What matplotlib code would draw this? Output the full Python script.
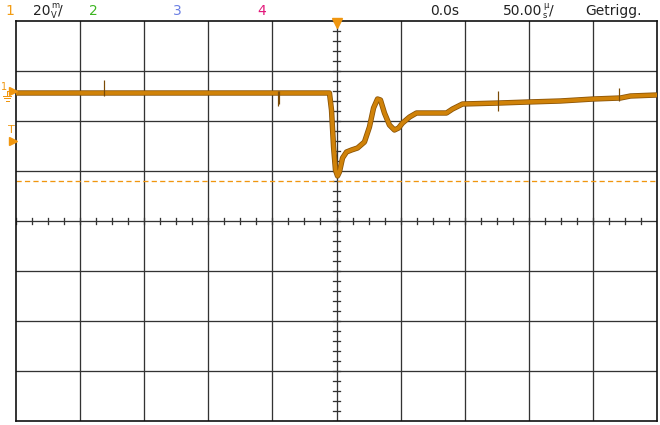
import matplotlib
matplotlib.use("Agg")
import matplotlib.pyplot as plt
import matplotlib.patheffects as pe

# channel 1 trace (time in us, voltage in mV relative to ch1 ground)
t_us = [-250.0, -120.0, -46.4, -5.5,
        -3.9, -2.3, -0.8, 0.8, 2.3, 4.7, 7.8, 11.7, 16.4, 21.8, 25.7, 28.9, 32.0,
        34.3, 37.4, 41.3, 45.2, 48.4, 51.5, 57.0, 62.4, 72.5, 85.8, 90.5, 98.3,
        127.1, 149.7, 174.6, 200.4, 221.5, 229.3, 250.0]
v_mV = [-0.8, -0.8, -0.8, -0.8,
        -7.6, -22.4, -31.6, -34.0, -32.4, -26.8, -24.4, -23.6, -22.8, -20.4, -14.4,
        -6.8, -3.2, -3.6, -8.8, -13.6, -15.6, -14.8, -12.8, -10.4, -8.8, -8.8, -8.8,
        -7.2, -5.2, -4.8, -4.4, -4.0, -3.2, -2.8, -2.0, -1.6]

# single glitches on the trace (time, low, high in mV)
spike_t = [-181.0, -46.0, -44.5, 126.0, 220.0]
spike_lo = [-2.0, -6.0, -5.0, -8.0, -4.0]
spike_hi = [4.4, 0.0, 0.0, 0.0, 1.2]

volts_per_div = 20.0     # mV/div
time_per_div = 50.0      # us/div
ch1_offset_div = 2.6     # ground marker position
trig_level_div = 1.6
cursor_div = 0.8

header_labels = ["1", "20", "2", "3", "4", "0.0s", "50.00", "Getrigg."]
header_colors = ["#f39c12", "#222222", "#3cb521", "#6b7fe3", "#e3177a",
                 "#222222", "#222222", "#222222"]
header_x = [5, 33, 89, 173, 257, 430, 503, 585]

orange = "#f0960f"
grid_col = "#333333"
ink = "#222222"

fig = plt.figure(figsize=(6.6, 4.25), dpi=100)
W, H = 660, 425
ax = fig.add_axes([16 / W, 4 / H, 641 / W, 400 / H])
ax.set_xlim(-5, 5)
ax.set_ylim(-4, 4)
ax.set_xticks([])
ax.set_yticks([])
for s in ax.spines.values():
    s.set_color("#111111")
    s.set_linewidth(1.2)

px = 0.72  # one pixel in points
for i in range(-4, 5):
    ax.axvline(i, color=grid_col, lw=1.3 * px, zorder=1)
for j in range(-3, 4):
    ax.axhline(j, color=grid_col, lw=1.3 * px, zorder=1)

# minor ticks on the centre cross
for k in range(-20, 21):
    x = k * 0.25
    ax.plot([x, x], [-0.06, 0.06], color=grid_col, lw=1.3 * px, zorder=1)
for k in range(-20, 21):
    y = k * 0.2
    ax.plot([-0.05, 0.05], [y, y], color=grid_col, lw=1.3 * px, zorder=1)

# cursor line
ax.axhline(cursor_div, color=orange, lw=1.3 * px, ls=(0, (4, 2.5)), zorder=2)

# trace
xd = [t / time_per_div for t in t_us]
yd = [v / volts_per_div + ch1_offset_div for v in v_mV]
ax.plot(xd, yd, color="#d08208", lw=3.8 * px, solid_joinstyle="round",
        solid_capstyle="butt", zorder=3,
        path_effects=[pe.Stroke(linewidth=5.4 * px, foreground="#8a5306"), pe.Normal()])
for t, lo, hi in zip(spike_t, spike_lo, spike_hi):
    x = t / time_per_div
    ax.plot([x, x], [lo / volts_per_div + ch1_offset_div, hi / volts_per_div + ch1_offset_div],
            color="#7a4a05", lw=1.2 * px, solid_capstyle="butt", zorder=3)

# header text
for lab, c, x in zip(header_labels, header_colors, header_x):
    fig.text(x / W, 1 - 11 / H, lab, color=c, fontsize=10, ha="left", va="center")
# stacked unit glyphs
fig.text(51 / W, 1 - 6 / H, "m", color=ink, fontsize=6, ha="left", va="center")
fig.text(51 / W, 1 - 15 / H, "V", color=ink, fontsize=6, ha="left", va="center")
fig.text(58 / W, 1 - 11 / H, "/", color=ink, fontsize=10, ha="left", va="center")
fig.text(543 / W, 1 - 6 / H, "µ", color=ink, fontsize=6, ha="left", va="center")
fig.text(543 / W, 1 - 15 / H, "s", color=ink, fontsize=6, ha="left", va="center")
fig.text(549 / W, 1 - 11 / H, "/", color=ink, fontsize=10, ha="left", va="center")

# trigger position marker at top
fig.add_artist(plt.Line2D([337 / W], [1 - 23 / H], marker="v", color=orange,
                          markersize=7, transform=fig.transFigure))

# channel 1 marker with ground symbol
y1 = 1 - 91 / H
fig.text(1 / W, 1 - 87 / H, "1", color=orange, fontsize=7, ha="left", va="center")
fig.add_artist(plt.Line2D([13 / W], [y1], marker=">", color=orange, markersize=6,
                          transform=fig.transFigure))
fig.add_artist(plt.Line2D([7 / W, 11 / W], [y1, y1], color=orange, lw=1 * px,
                          transform=fig.transFigure))
for dy, half in [(96, 4), (98.5, 3), (101, 1.5)]:
    fig.add_artist(plt.Line2D([(7 - half) / W, (7 + half) / W], [1 - dy / H] * 2,
                              color=orange, lw=1 * px, transform=fig.transFigure))
fig.add_artist(plt.Line2D([7 / W, 7 / W], [y1, 1 - 96 / H], color=orange,
                          lw=1 * px, transform=fig.transFigure))

# trigger level marker
fig.text(11 / W, 1 - 130 / H, "T", color=orange, fontsize=8, ha="center", va="center")
fig.add_artist(plt.Line2D([13 / W], [1 - (221 - trig_level_div * 50) / H], marker=">",
                          color=orange, markersize=6, transform=fig.transFigure))

fig.savefig("out.png", dpi=100)
